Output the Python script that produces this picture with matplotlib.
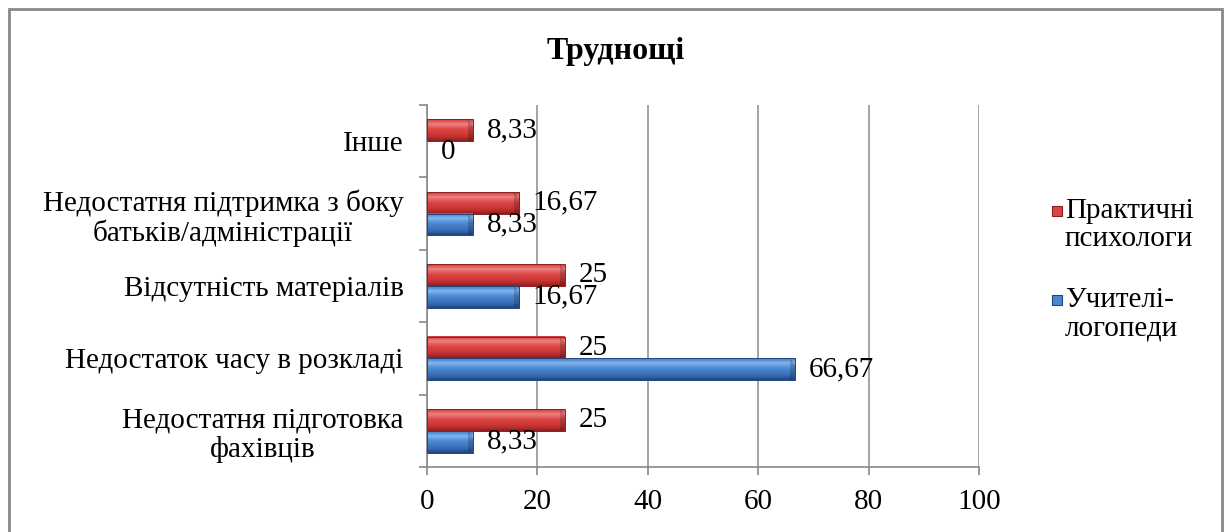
import numpy as np
import matplotlib
matplotlib.use("Agg")
import matplotlib.pyplot as plt
from matplotlib.colors import LinearSegmentedColormap
from matplotlib.patches import Rectangle, Polygon

plt.rcParams['font.family'] = ['Liberation Serif', 'DejaVu Serif']

# Дані
categories = ["Недостатня підготовка\nфахівців",
              "Недостаток часу в розкладі",
              "Відсутність матеріалів",
              "Недостатня підтримка з боку\nбатьків/адміністрації",
              "Інше"]
psych = [25, 25, 25, 16.67, 8.33]      # Практичні психологи
logoped = [8.33, 66.67, 16.67, 8.33, 0]  # Учителі-логопеди
xticks = [0, 20, 40, 60, 80, 100]
series_names = ["Практичні\nпсихологи", "Учителі-\nлогопеди"]

red_cmap = LinearSegmentedColormap.from_list(
    "r", [(0, "#c83c3c"), (0.22, "#ef8080"), (0.45, "#df4848"), (0.8, "#c43030"), (1, "#8c1e1e")])
blue_cmap = LinearSegmentedColormap.from_list(
    "b", [(0, "#3f76c0"), (0.22, "#82b6ee"), (0.45, "#4d8ad6"), (0.8, "#386cb4"), (1, "#22467c")])

fig = plt.figure(figsize=(12.24, 5.32), dpi=100)
ax = fig.add_axes([427/1224, 1-467/532, (979-427)/1224, (467-105)/532])

FS = 21
h = 0.3
grad = np.linspace(0, 1, 64).reshape(-1, 1)


def bar(y, w, cmap, edge):
    if w <= 0:
        return
    ax.imshow(grad, cmap=cmap, extent=[0, w, y - h/2, y + h/2], aspect='auto',
              origin='upper', interpolation='bilinear', zorder=3)
    d = min(0.9, w * 0.3)
    # скошений торець
    ax.add_patch(Polygon([(w - d, y + h/2), (w, y + h/2 - h*0.3), (w, y - h/2 + h*0.1), (w - d, y - h/2)],
                         closed=True, fc="black", alpha=0.18, lw=0, zorder=4))
    ax.add_patch(Rectangle((0, y - h/2), w, h, fill=False, ec=edge, lw=0.7, zorder=4))


def fmt(v):
    return f"{v:g}".replace(".", ",")


for i in range(len(categories)):
    yr = i + h/2
    yb = i - h/2
    bar(yr, psych[i], red_cmap, "#8c1e1e")
    bar(yb, logoped[i], blue_cmap, "#22467c")
    ax.annotate(fmt(psych[i]), (psych[i], yr), xytext=(10, 0), textcoords="offset points",
                ha="left", va="center", fontsize=FS, zorder=5)
    ax.annotate(fmt(logoped[i]), (logoped[i], yb), xytext=(10, 0), textcoords="offset points",
                ha="left", va="center", fontsize=FS, zorder=5)

ax.set_xlim(0, 100)
ax.set_ylim(-0.5, len(categories) - 0.5)
ax.set_xticks(xticks)
ax.set_xticklabels([str(t) for t in xticks], fontsize=FS)
ax.set_yticks(range(len(categories)))
ax.set_yticklabels(categories, fontsize=FS, multialignment="center", linespacing=1.12)
ax.set_yticks(np.arange(-0.5, len(categories), 1), minor=True)
ax.tick_params(axis="y", which="major", length=0, pad=17)
ax.tick_params(axis="y", which="minor", length=6, color="#888888", width=1.2)
ax.tick_params(axis="x", length=6, color="#888888", width=1.2, pad=10)
ax.grid(axis="x", color="#8c8c8c", lw=1.1, zorder=1)
ax.set_axisbelow(True)
for s in ["top", "right"]:
    ax.spines[s].set_visible(False)
for s in ["left", "bottom"]:
    ax.spines[s].set_color("#888888")
    ax.spines[s].set_linewidth(1.2)

fig.text(616/1224, 1-51/532, "Труднощі", ha="center", va="center", fontsize=23, fontweight="bold")

# легенда
leg_y = [211, 300]
for name, cmap, y in zip(series_names, [red_cmap, blue_cmap], leg_y):
    fig.patches.append(Rectangle((1052/1224, 1-(y+5)/532), 10/1224, 10/532,
                                 transform=fig.transFigure, fc=cmap(0.5), ec=cmap(1.0), lw=0.8))
    fig.text(1065/1224, 1-(y-13)/532, name, ha="left", va="top", fontsize=FS, linespacing=1.12)

# рамка
fig.patches.append(Rectangle((9/1224, -0.05), (1222-9)/1224, 1.05-9/532, transform=fig.transFigure,
                             fill=False, ec="#888888", lw=2))

fig.savefig("out.png", dpi=100)
